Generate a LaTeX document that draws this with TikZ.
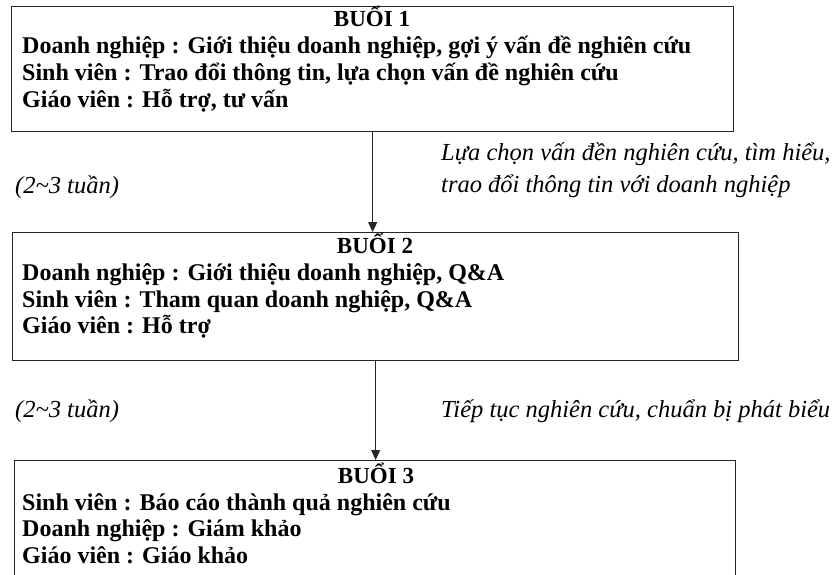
\documentclass[tikz,border=0pt]{standalone}
\usepackage{fontspec}
\setmainfont{Liberation Serif}
\usetikzlibrary{arrows.meta}
\begin{document}
\begin{tikzpicture}[x=1pt,y=-1pt,
  box/.style={draw=black!85, line width=1.3pt, rectangle, inner sep=0pt, anchor=north west},
  ttl/.style={anchor=base, inner sep=0pt, font=\fontsize{23}{27}\selectfont\bfseries},
  txt/.style={anchor=base west, inner sep=0pt, font=\fontsize{24}{27}\selectfont\bfseries},
  note/.style={anchor=base west, inner sep=0pt, font=\fontsize{24.5}{27}\selectfont\itshape},
  arr/.style={draw=black!85, line width=0.9pt, -{Triangle[length=10pt,width=9pt]}}]
\useasboundingbox (0,0) rectangle (838,574);
\fill[white] (0,0) rectangle (838,574);
% boxes
\node[box, minimum width=722pt, minimum height=125pt] (b1) at (11,6) {};
\node[box, minimum width=726pt, minimum height=128pt] (b2) at (12,232) {};
\node[box, minimum width=721pt, minimum height=140pt] (b3) at (14,460) {};
% box 1 text
\node[ttl] (t1) at (372,26) {BUỔI 1};
\node[txt] (l11) at (22,53) {Doanh nghiệp : Giới thiệu doanh nghiệp, gợi ý vấn đề nghiên cứu};
\node[txt] (l12) at (22,80) {Sinh viên : Trao đổi thông tin, lựa chọn vấn đề nghiên cứu};
\node[txt] (l13) at (22,107) {Giáo viên : Hỗ trợ, tư vấn};
% box 2 text
\node[ttl] (t2) at (375,253) {BUỔI 2};
\node[txt] (l21) at (22,280) {Doanh nghiệp : Giới thiệu doanh nghiệp, Q\&A};
\node[txt] (l22) at (22,307) {Sinh viên : Tham quan doanh nghiệp, Q\&A};
\node[txt] (l23) at (22,333) {Giáo viên : Hỗ trợ};
% box 3 text
\node[ttl] (t3) at (376,483) {BUỔI 3};
\node[txt] (l31) at (22,510) {Sinh viên : Báo cáo thành quả nghiên cứu};
\node[txt] (l32) at (22,536) {Doanh nghiệp : Giám khảo};
\node[txt] (l33) at (22,563) {Giáo viên : Giáo khảo};
% notes
\node[note] (n1) at (441,160) {Lựa chọn vấn đền nghiên cứu, tìm hiểu,};
\node[note] (n2) at (441,192) {trao đổi thông tin với doanh nghiệp};
\node[note] (w1) at (15,193) {(2\char`\~3 tuần)};
\node[note] (w2) at (15,417) {(2\char`\~3 tuần)};
\node[note] (n3) at (441,417) {Tiếp tục nghiên cứu, chuẩn bị phát biểu};
% arrows
\draw[arr] (b1.south) -- (b1.south |- b2.north);
\draw[arr] (b2.south) -- (b2.south |- b3.north);
\end{tikzpicture}
\end{document}
